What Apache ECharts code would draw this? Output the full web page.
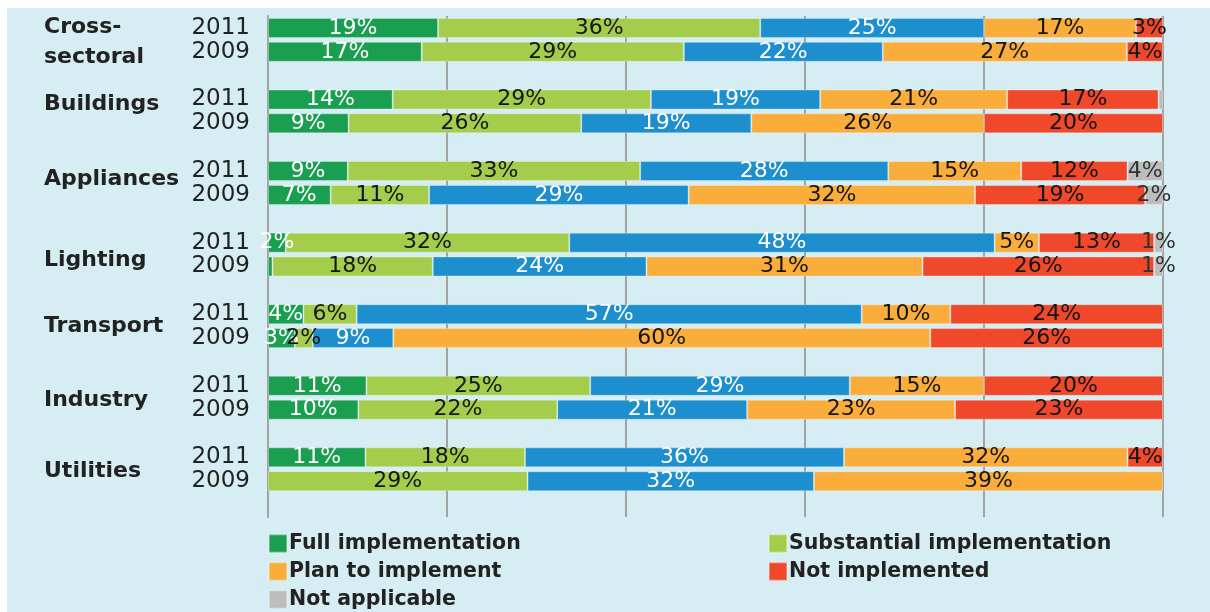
<!DOCTYPE html>
<html>
<head>
<meta charset="utf-8">
<script src="https://cdn.jsdelivr.net/npm/echarts@6/dist/echarts.min.js"></script>
<style>
  html, body { margin: 0; padding: 0; background: #ffffff; }
  #bg { position: absolute; left: 7px; top: 8px; right: 0; bottom: 0; background: #d6edf3; }
  #chart { position: absolute; left: 0; top: 0; width: 1210px; height: 612px; }
</style>
</head>
<body>
<div id="bg"></div>
<div id="chart"></div>
<script>
// ---- Data (percent), each array: [group1 2011, group1 2009, group2 2011, ...] ----
var groups = ['Cross-\nsectoral', 'Buildings', 'Appliances', 'Lighting', 'Transport', 'Industry', 'Utilities'];
var years = ['2011', '2009'];
var seriesNames = ['Full implementation', 'Substantial implementation', 'Partial implementation', 'Plan to implement', 'Not implemented', 'Not applicable'];
var fullImpl        = [19, 17, 14, 9, 9, 7, 2, 0.5, 4, 3, 11, 10, 11, 0];
var substantialImpl = [36, 29, 29, 26, 33, 11, 32, 18, 6, 2, 25, 22, 18, 29];
var partialImpl     = [25, 22, 19, 19, 28, 29, 48, 24, 57, 9, 29, 21, 36, 32];
var planImpl        = [17, 27, 21, 26, 15, 32, 5, 31, 10, 60, 15, 23, 32, 39];
var notImpl         = [3, 4, 17, 20, 12, 19, 13, 26, 24, 26, 20, 23, 4, 0];
var notApplicable   = [0, 0, 0.5, 0, 4, 2, 1, 1, 0, 0, 0, 0, 0, 0];
var xTicks = [0, 20, 40, 60, 80, 100];

// ---- Styling ----
var colors = ['#1a9f50', '#a3cd4a', '#1e8fce', '#faad3a', '#ef482b', '#bdbdbd'];
var labelColors = ['#ffffff', '#151515', '#ffffff', '#151515', '#151515', '#333333'];
var groupLabelShift = [14, 5, 8, 18, 12, 14, 14]; // vertical nudges of group names
var FONT = 'DejaVu Sans';

var allSeries = [fullImpl, substantialImpl, partialImpl, planImpl, notImpl, notApplicable];

// row totals for normalisation to 100%
var totals = [];
for (var r = 0; r < fullImpl.length; r++) {
  var s = 0;
  allSeries.forEach(function (arr) { s += arr[r]; });
  totals.push(s);
}

// category slots: 2011, 2009, gap per group
var yearCats = [];
var groupCats = [];
groups.forEach(function (g, gi) {
  yearCats.push(years[0], years[1], ' ' + gi);
  groupCats.push({ value: g, textStyle: { padding: [groupLabelShift[gi] * 2, 0, 0, 0] } }, ' a' + gi, ' b' + gi);
});

function buildData(arr) {
  var out = [];
  for (var gi = 0; gi < groups.length; gi++) {
    for (var yi = 0; yi < 2; yi++) {
      var idx = gi * 2 + yi;
      var v = arr[idx];
      if (v > 0) out.push({ value: v / totals[idx] * 100, raw: v });
      else out.push('-');
    }
    out.push('-');
  }
  return out;
}

var series = allSeries.map(function (arr, si) {
  return {
    name: seriesNames[si],
    type: 'bar',
    stack: 'total',
    barWidth: 20,
    yAxisIndex: 0,
    itemStyle: { color: colors[si], borderColor: 'rgba(255,255,255,0.3)', borderWidth: 1 },
    label: {
      show: true,
      position: 'inside',
      fontFamily: FONT,
      fontSize: 22,
      color: labelColors[si],
      formatter: function (p) {
        var raw = p.data && p.data.raw;
        return raw >= 1 ? raw + '%' : '';
      }
    },
    emphasis: { disabled: true },
    data: buildData(arr)
  };
});

var legendText = { fontFamily: FONT, fontSize: 20.5, fontWeight: 'bold', color: '#222222', lineHeight: 20, padding: [0, 0, 0, -3] };

var chart = echarts.init(document.getElementById('chart'), null, { renderer: 'canvas' });
chart.setOption({
  animation: false,
  backgroundColor: 'transparent',
  textStyle: { fontFamily: FONT },
  grid: { left: 268, right: 47, top: 16, bottom: 95, containLabel: false, outerBoundsMode: 'none' },
  xAxis: {
    type: 'value', min: xTicks[0], max: xTicks[xTicks.length - 1], interval: xTicks[1] - xTicks[0],
    axisLine: { show: false }, axisTick: { show: false }, axisLabel: { show: false },
    splitLine: { show: true, lineStyle: { color: '#a3a3a3', width: 2 } }
  },
  yAxis: [
    {
      type: 'category', inverse: true, data: yearCats,
      axisLine: { show: true, lineStyle: { color: '#a3a3a3', width: 2 } },
      axisTick: { show: false },
      axisLabel: {
        interval: 0, margin: 18, fontFamily: FONT, fontSize: 23, color: '#222222',
        formatter: function (v) { return v.charAt(0) === ' ' ? '' : v; }
      }
    },
    {
      type: 'category', inverse: true, data: groupCats, position: 'left',
      axisLine: { show: false }, axisTick: { show: false },
      axisLabel: {
        interval: 0, margin: 24, fontFamily: FONT, fontSize: 22, fontWeight: 'bold',
        color: '#222222', lineHeight: 30,
        formatter: function (v) {
          if (v.charAt(0) === ' ') return '';
          return v.split('\n').map(function (t) { return '{g|' + t + '}'; }).join('\n');
        },
        rich: {
          g: { width: 200, align: 'left', fontFamily: FONT, fontSize: 22, fontWeight: 'bold', color: '#222222', lineHeight: 30 }
        }
      }
    }
  ],
  legend: [
    {
      left: 268, top: 533, orient: 'vertical', itemWidth: 18, itemHeight: 18, itemGap: 7, padding: 0,
      icon: 'rect', selectedMode: false, textStyle: legendText,
      data: [seriesNames[0], seriesNames[3], seriesNames[5]]
    },
    {
      left: 768, top: 533, orient: 'vertical', itemWidth: 18, itemHeight: 18, itemGap: 7, padding: 0,
      icon: 'rect', selectedMode: false, textStyle: legendText,
      data: [seriesNames[1], seriesNames[4]]
    }
  ],
  series: series
});
</script>
</body>
</html>
